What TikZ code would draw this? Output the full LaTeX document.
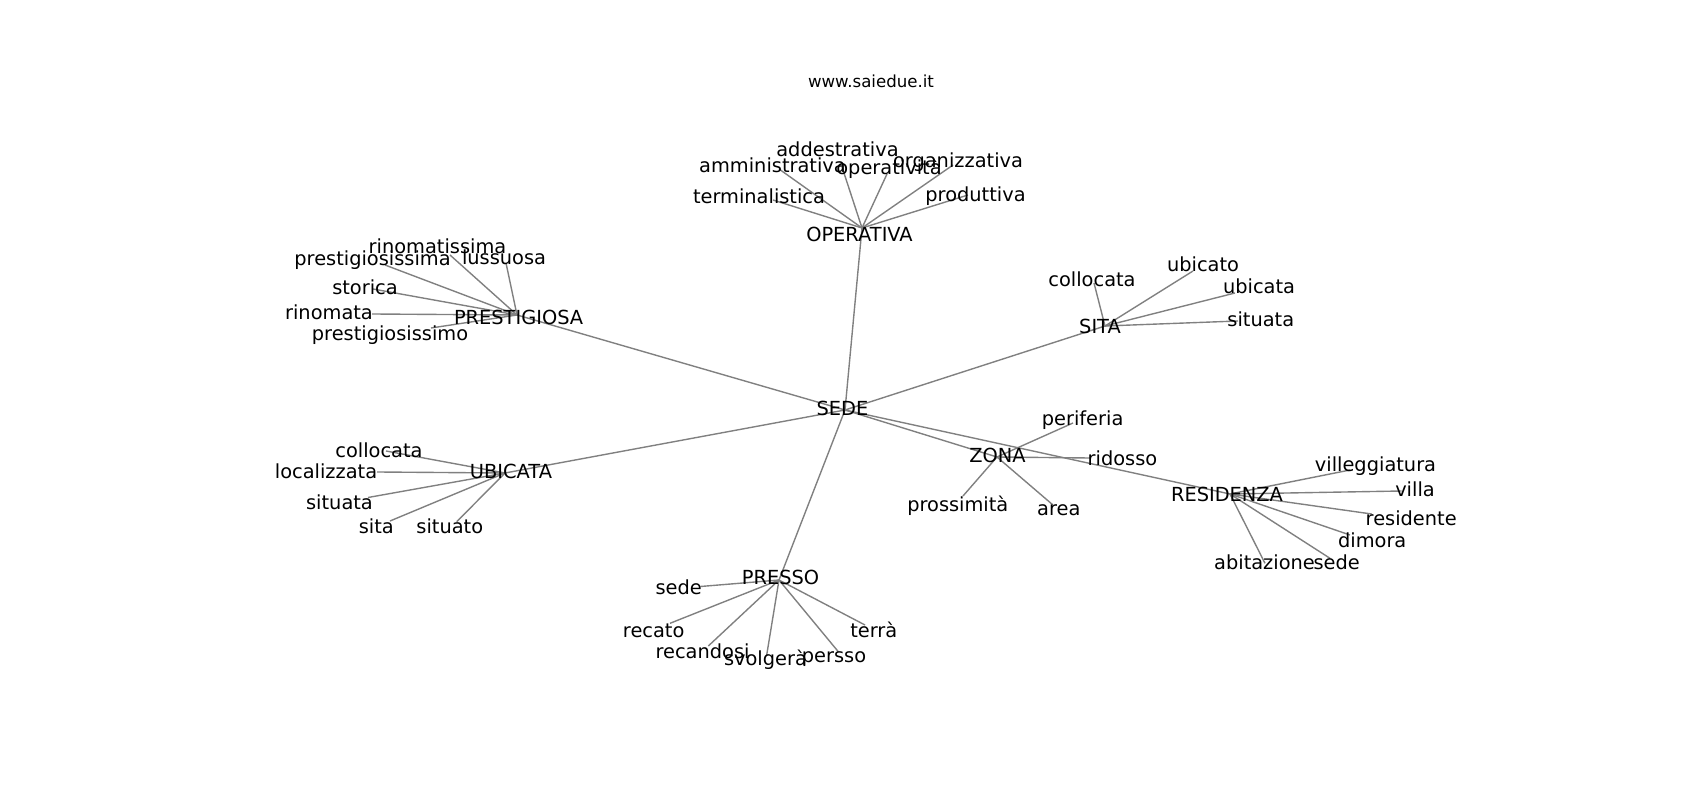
\documentclass[tikz,border=0pt]{standalone}
\usepackage{fontspec}
\setmainfont{DejaVu Sans}
\begin{document}
\begin{tikzpicture}[x=0.01in,y=-0.01in,
  edge/.style={draw=black!50, line width=1pt},
  lbl/.style={anchor=base, inner sep=0pt, yshift=-0.01in, font=\fontsize{14}{16}\selectfont},
  ttl/.style={anchor=base, inner sep=0pt, font=\fontsize{12}{14}\selectfont}]
\useasboundingbox[fill=white] (0,0) rectangle (1700,800);
% hub points
\coordinate (sede) at (845,410);
\coordinate (oper) at (862,228);
\coordinate (prest) at (517,315);
\coordinate (sita) at (1105,326);
\coordinate (ubic) at (505,473);
\coordinate (zona) at (997,457);
\coordinate (resid) at (1230,494);
\coordinate (presso) at (779,580);
% leaf points
\coordinate (oAdd) at (842,167);
\coordinate (oAmm) at (779,169);
\coordinate (oOpe) at (887,174);
\coordinate (oOrg) at (953,165);
\coordinate (oTer) at (773,200);
\coordinate (oPro) at (968,195);
\coordinate (pRis) at (450,255);
\coordinate (pPra) at (385,265);
\coordinate (pLus) at (506,263);
\coordinate (pSto) at (373,289);
\coordinate (pRin) at (372,314);
\coordinate (pPro) at (431,328);
\coordinate (sCol) at (1094,283);
\coordinate (sUbo) at (1193,271);
\coordinate (sUba) at (1235,293);
\coordinate (sSit) at (1238,321);
\coordinate (uCol) at (386,451);
\coordinate (uLoc) at (377,472);
\coordinate (uSit) at (368,497.5);
\coordinate (uSta) at (390,521);
\coordinate (uSto) at (456.7,521.7);
\coordinate (zPer) at (1073,423);
\coordinate (zRid) at (1090,458);
\coordinate (zPro) at (963,496);
\coordinate (zAre) at (1053,505);
\coordinate (rVig) at (1350,470);
\coordinate (rVil) at (1401.7,491);
\coordinate (rRes) at (1371.7,514);
\coordinate (rDim) at (1350,535);
\coordinate (rAbi) at (1265,563.3);
\coordinate (rSed) at (1330,558.3);
\coordinate (qSed) at (700.5,586.5);
\coordinate (qRec) at (670,623.3);
\coordinate (qRes) at (708.3,646);
\coordinate (qSvo) at (766.7,655);
\coordinate (qPer) at (838.3,651.7);
\coordinate (qTer) at (865,625);
% edges
\foreach \h in {oper,prest,sita,ubic,zona,resid,presso} \draw[edge] (sede) -- (\h);
\foreach \l in {oAdd,oAmm,oOpe,oOrg,oTer,oPro} \draw[edge] (oper) -- (\l);
\foreach \l in {pRis,pPra,pLus,pSto,pRin,pPro} \draw[edge] (prest) -- (\l);
\foreach \l in {sCol,sUbo,sUba,sSit} \draw[edge] (sita) -- (\l);
\foreach \l in {uCol,uLoc,uSit,uSta,uSto} \draw[edge] (ubic) -- (\l);
\foreach \l in {zPer,zRid,zPro,zAre} \draw[edge] (zona) -- (\l);
\foreach \l in {rVig,rVil,rRes,rDim,rAbi,rSed} \draw[edge] (resid) -- (\l);
\foreach \l in {qSed,qRec,qRes,qSvo,qPer,qTer} \draw[edge] (presso) -- (\l);
% title
\node[ttl] (title) at (871,87.7) {www.saiedue.it};
% hub labels
\node[lbl] (sedeL) at (842.5,415) {SEDE};
\node[lbl] (operL) at (859.5,240.5) {OPERATIVA};
\node[lbl] (prestL) at (518.6,323.3) {PRESTIGIOSA};
\node[lbl] (sitaL) at (1100,333) {SITA};
\node[lbl] (ubicL) at (511,477.7) {UBICATA};
\node[lbl] (zonaL) at (997.5,461.7) {ZONA};
\node[lbl] (residL) at (1227,500) {RESIDENZA};
\node[lbl] (pressoL) at (780.5,583.3) {PRESSO};
% leaf labels
\node[lbl] (oAddL) at (837.5,155.7) {addestrativa};
\node[lbl] (oAmmL) at (772.5,171.7) {amministrativa};
\node[lbl] (oOpeL) at (889,173.3) {operatività};
\node[lbl] (oOrgL) at (958,167) {organizzativa};
\node[lbl] (oTerL) at (759,202.7) {terminalistica};
\node[lbl] (oProL) at (975.5,201) {produttiva};
\node[lbl] (pRisL) at (437.5,252.3) {rinomatissima};
\node[lbl] (pPraL) at (372.5,265) {prestigiosissima};
\node[lbl] (pLusL) at (504,264) {lussuosa};
\node[lbl] (pStoL) at (365,293.3) {storica};
\node[lbl] (pRinL) at (329,319) {rinomata};
\node[lbl] (pProL) at (390,340) {prestigiosissimo};
\node[lbl] (sColL) at (1092,285.7) {collocata};
\node[lbl] (sUboL) at (1203,270.7) {ubicato};
\node[lbl] (sUbaL) at (1259,292.7) {ubicata};
\node[lbl] (sSitL) at (1260.8,326) {situata};
\node[lbl] (uColL) at (379,456) {collocata};
\node[lbl] (uLocL) at (326,477.7) {localizzata};
\node[lbl] (uSitL) at (339.5,508.3) {situata};
\node[lbl] (uStaL) at (376.3,532.7) {sita};
\node[lbl] (uStoL) at (449.8,532.7) {situato};
\node[lbl] (zPerL) at (1082.6,425) {periferia};
\node[lbl] (zRidL) at (1122.5,464.3) {ridosso};
\node[lbl] (zProL) at (957.8,510.7) {prossimità};
\node[lbl] (zAreL) at (1058.8,514.3) {area};
\node[lbl] (rVigL) at (1375.5,470.7) {villeggiatura};
\node[lbl] (rVilL) at (1415,495) {villa};
\node[lbl] (rResL) at (1411.2,524) {residente};
\node[lbl] (rDimL) at (1372.2,546) {dimora};
\node[lbl] (rAbiL) at (1264.5,568.3) {abitazione};
\node[lbl] (rSedL) at (1336.7,568.3) {sede};
\node[lbl] (qSedL) at (678.7,593.3) {sede};
\node[lbl] (qRecL) at (653.7,636) {recato};
\node[lbl] (qResL) at (702.5,657.7) {recandosi};
\node[lbl] (qSvoL) at (765.5,664) {svolgerà};
\node[lbl] (qPerL) at (834,661.5) {persso};
\node[lbl] (qTerL) at (873.8,636) {terrà};
\end{tikzpicture}
\end{document}
